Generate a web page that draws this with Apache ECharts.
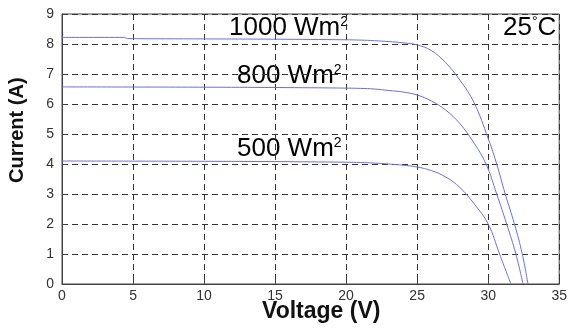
<!DOCTYPE html>
<html>
<head>
<meta charset="utf-8">
<script src="https://cdn.jsdelivr.net/npm/echarts@6/dist/echarts.min.js"></script>
<style>
  html, body { margin: 0; padding: 0; background: #fff; }
  #chart { width: 570px; height: 329px; }
</style>
</head>
<body>
<div id="chart"></div>
<script>
// I-V curves at 25 C
var v1000 = [0, 4.4, 4.6, 10, 15, 20, 21, 22, 23, 24, 25, 26, 27, 28, 29, 30, 30.6, 31.2, 31.85, 32.4, 32.8];
var i1000 = [8.22, 8.22, 8.18, 8.17, 8.16, 8.14, 8.13, 8.11, 8.08, 8.04, 7.97, 7.78, 7.38, 6.8, 6.05, 4.85, 4.0, 3.0, 2.0, 1.0, 0];

var v800 = [0, 10, 15, 20, 21, 22, 23, 24, 25, 26, 27, 28, 29, 29.85, 30.6, 31.3, 31.95, 32.45];
var i800 = [6.57, 6.56, 6.55, 6.53, 6.52, 6.5, 6.45, 6.4, 6.3, 6.1, 5.8, 5.35, 4.7, 4.0, 3.0, 2.0, 1.0, 0];

var v500 = [0, 10, 15, 20, 21, 22, 23, 24, 25, 26, 27, 28, 29, 30, 30.8, 31.6];
var i500 = [4.1, 4.09, 4.08, 4.06, 4.05, 4.03, 4.0, 3.96, 3.9, 3.78, 3.57, 3.22, 2.68, 2.0, 1.0, 0];

var xTicks = [0, 5, 10, 15, 20, 25, 30, 35];
var yTicks = [0, 1, 2, 3, 4, 5, 6, 7, 8, 9];

function pairs(xs, ys) {
    var out = [];
    for (var k = 0; k < xs.length; k++) out.push([xs[k], ys[k]]);
    return out;
}

var chart = echarts.init(document.getElementById('chart'));

var lineColor = '#6c6cec';
var gridLine = { show: true, lineStyle: { color: '#333', type: [6, 4], width: 1 } };
var tickFont = { color: '#333', fontSize: 14, fontFamily: 'Liberation Sans' };

// rich text for the irradiance labels (superscript 2)
var labRich = {
    a: { fontSize: 26, fontFamily: 'Liberation Sans', color: '#111' },
    s: { fontSize: 14, fontFamily: 'Liberation Sans', color: '#111', verticalAlign: 'top', padding: [0, 0, 12, 0] }
};

function irrLabel(txt, x, y) {
    return {
        type: 'text', left: x, top: y,
        style: { text: '{a|' + txt + ' Wm}{s|2}', rich: labRich }
    };
}

var option = {
    animation: false,
    grid: { left: 62, right: 7, top: 14, bottom: 45, show: true, borderColor: '#444', borderWidth: 1 },
    xAxis: {
        type: 'value', min: xTicks[0], max: xTicks[xTicks.length - 1], interval: 5,
        axisLine: { lineStyle: { color: '#444' } },
        axisTick: { inside: true, length: 4, lineStyle: { color: '#444' } },
        axisLabel: Object.assign({ margin: 5 }, tickFont),
        splitLine: gridLine
    },
    yAxis: {
        type: 'value', min: yTicks[0], max: yTicks[yTicks.length - 1], interval: 1,
        axisLine: { show: true, lineStyle: { color: '#444' } },
        axisTick: { show: true, inside: true, length: 4, lineStyle: { color: '#444' } },
        axisLabel: Object.assign({ margin: 8 }, tickFont),
        splitLine: gridLine
    },
    series: [
        { name: '1000', type: 'line', data: pairs(v1000, i1000) },
        { name: '800', type: 'line', data: pairs(v800, i800) },
        { name: '500', type: 'line', data: pairs(v500, i500) }
    ].map(function (s) {
        s.showSymbol = false;
        s.smooth = 0.4;
        s.lineStyle = { color: lineColor, width: 1 };
        return s;
    }),
    graphic: [
        irrLabel('1000', 229, 15),
        irrLabel('800', 237, 63),
        irrLabel('500', 237, 136),
        {
            type: 'text', left: 503, top: 15,
            style: {
                text: '{a|25}{s|°}{a|C}',
                rich: labRich
            }
        },
        {
            type: 'text', left: 262, top: 300,
            style: { text: 'Voltage (V)', fontSize: 23, fontWeight: 'bold', fontFamily: 'Liberation Sans', fill: '#111' }
        },
        {
            type: 'text', x: 7, y: 183, rotation: Math.PI / 2,
            style: { text: 'Current (A)', fontSize: 20, fontWeight: 'bold', fontFamily: 'Liberation Sans', fill: '#111' }
        }
    ]
};

chart.setOption(option);
</script>
</body>
</html>
